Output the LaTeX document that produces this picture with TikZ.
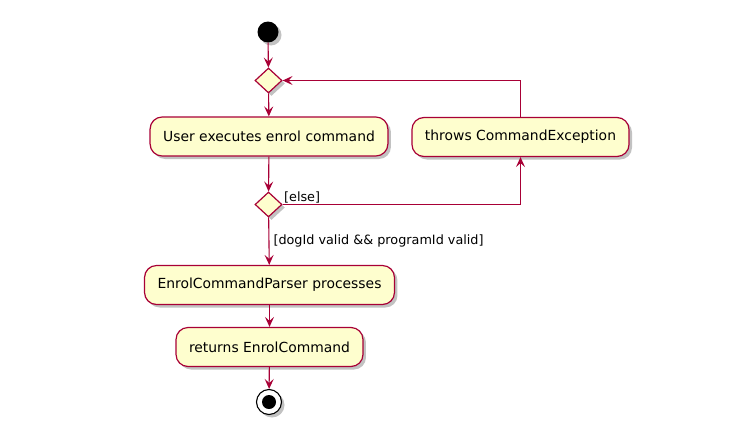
\documentclass[tikz,border=0pt]{standalone}
\usepackage{fontspec}
\setmainfont{DejaVu Sans}
\usepackage{xcolor}
\usetikzlibrary{shapes.geometric, arrows.meta, positioning, calc, shadows}

\definecolor{umlfill}{HTML}{FEFECE}
\definecolor{umlline}{HTML}{A80036}

\begin{document}
\begin{tikzpicture}[
    x=1pt, y=-1pt,
    font=\fontsize{13.9}{16}\selectfont,
    umlshadow/.style={drop shadow={shadow xshift=3pt, shadow yshift=-3pt, fill=black!40, opacity=0.6}},
    action/.style={
        rectangle,
        rounded corners=12pt,
        draw=umlline,
        fill=umlfill,
        line width=1.2pt,
        minimum height=39pt,
        inner xsep=13pt,
        umlshadow
    },
    decision/.style={
        diamond,
        draw=umlline,
        fill=umlfill,
        line width=1.2pt,
        inner sep=0pt,
        minimum width=27pt,
        minimum height=25pt,
        umlshadow
    },
    flow/.style={
        draw=umlline,
        line width=1.1pt,
        -{Stealth[length=10pt, width=9pt, inset=4pt]}
    },
    guard/.style={font=\fontsize{12.8}{15}\selectfont, inner sep=1pt}
]
    % Page size
    \useasboundingbox (0,0) rectangle (746,447);

    % Start and decisions
    \node[circle, fill=black, minimum size=21pt, inner sep=0pt, umlshadow] (start) at (268, 32) {};
    \node[decision] (dec1) at (268.5, 80.5) {};
    \node[action] (user) at (269, 136.5) {User executes enrol command};
    \node[decision] (dec2) at (268.5, 204.5) {};

    % Exception branch
    \node[action] (throws) at (520.5, 137) {throws CommandException};

    % Main branch
    \node[action] (parser) at (269.5, 285) {EnrolCommandParser processes};
    \node[action] (returns) at (269.5, 347) {returns EnrolCommand};

    % Stop
    \node[circle, draw=black, fill=white, line width=1.1pt, minimum size=25pt, inner sep=0pt, umlshadow] (stop) at (269, 402) {};
    \node[circle, fill=black, minimum size=14pt, inner sep=0pt] (stopdot) at (stop.center) {};

    % Connectors
    \draw[flow] (start) -- (dec1);
    \draw[flow] (dec1) -- (user);
    \draw[flow] (user) -- (dec2);
    \draw[flow] (dec2.east) -| (throws.south)
        node[guard, pos=0, anchor=south west] {[else]};
    \draw[flow] (throws.north) |- (dec1.east);
    \draw[flow] (dec2) -- (parser)
        node[guard, midway, anchor=west, xshift=3pt] {[dogId valid \&\& programId valid]};
    \draw[flow] (parser) -- (returns);
    \draw[flow] (returns) -- (stop);
\end{tikzpicture}
\end{document}
